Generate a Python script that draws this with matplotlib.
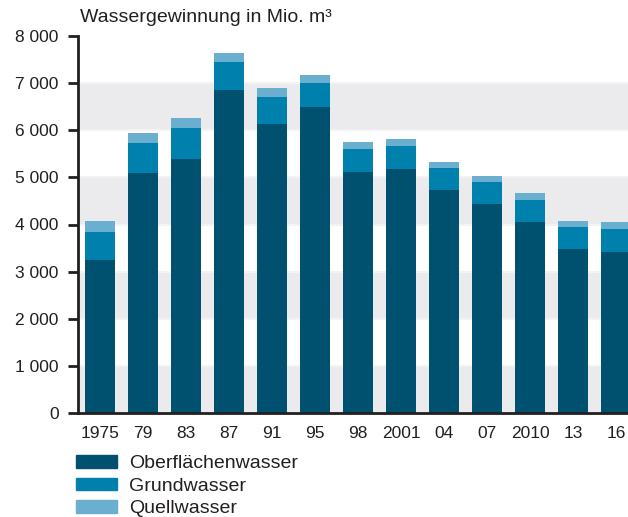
import numpy as np
import matplotlib.pyplot as plt
from matplotlib.patches import Patch

plt.rcParams['font.family'] = ['Liberation Sans', 'DejaVu Sans']

# Wassergewinnung in Mio. m³
jahre = ['1975', '79', '83', '87', '91', '95', '98', '2001', '04', '07', '2010', '13', '16']
oberflaeche = [3250, 5090, 5390, 6850, 6130, 6490, 5110, 5180, 4730, 4440, 4050, 3480, 3420]
grund = [590, 640, 650, 590, 570, 510, 490, 490, 470, 460, 470, 470, 490]
quell = [230, 210, 210, 190, 190, 170, 150, 150, 130, 130, 150, 130, 150]

c_ob = '#00506f'
c_gr = '#0080ad'
c_qu = '#6aafd0'
schwarz = '#231f20'

fig = plt.figure(figsize=(6.28, 5.17), dpi=100)
ax = fig.add_axes([78 / 628, 1 - 413.3 / 517, 1 - 78 / 628, (413.3 - 35.7) / 517])

x = np.arange(len(jahre))
ob = np.array(oberflaeche)
gr = np.array(grund)
qu = np.array(quell)

# graue Baender
for y0 in range(0, 8000, 2000):
    ax.axhspan(y0, y0 + 1000, color='#ebebee', lw=0, zorder=0)
for y0 in range(1000, 8000, 1000):
    ax.axhline(y0, color='#f3f3f4', lw=1.5, zorder=0.5)

ax.bar(x, ob, width=0.7, color=c_ob, zorder=2)
ax.bar(x, gr, width=0.7, bottom=ob, color=c_gr, zorder=2)
ax.bar(x, qu, width=0.7, bottom=ob + gr, color=c_qu, zorder=2)

ax.set_xlim(-0.513, 12.28)
ax.set_ylim(0, 8000)
ax.set_yticks(range(0, 8001, 1000))
ax.set_yticklabels([f'{v:,}'.replace(',', ' ') for v in range(0, 8001, 1000)])
ax.set_xticks(x)
ax.set_xticklabels(jahre)

for s in ['top', 'right']:
    ax.spines[s].set_visible(False)
for s in ['left', 'bottom']:
    ax.spines[s].set_color(schwarz)
    ax.spines[s].set_linewidth(2)
ax.tick_params(axis='y', direction='out', length=7, width=2, color=schwarz,
               labelsize=12.5, labelcolor=schwarz, pad=7)
ax.tick_params(axis='x', length=0, labelsize=12.5, labelcolor=schwarz, pad=9)

fig.text(80 / 628, 1 - 18 / 517, 'Wassergewinnung in Mio. m³', fontsize=14,
         color=schwarz, va='center', ha='left')

handles = [Patch(color=c_ob, label='Oberflächenwasser'),
           Patch(color=c_gr, label='Grundwasser'),
           Patch(color=c_qu, label='Quellwasser')]
fig.legend(handles=handles, loc='upper left', bbox_to_anchor=(76 / 628, 1 - 455 / 517),
           frameon=False, fontsize=14, handlelength=2.1, handleheight=0.62,
           handletextpad=0.65, labelspacing=0.28, borderpad=0, borderaxespad=0,
           labelcolor=schwarz)

fig.savefig('out.png', dpi=100)
